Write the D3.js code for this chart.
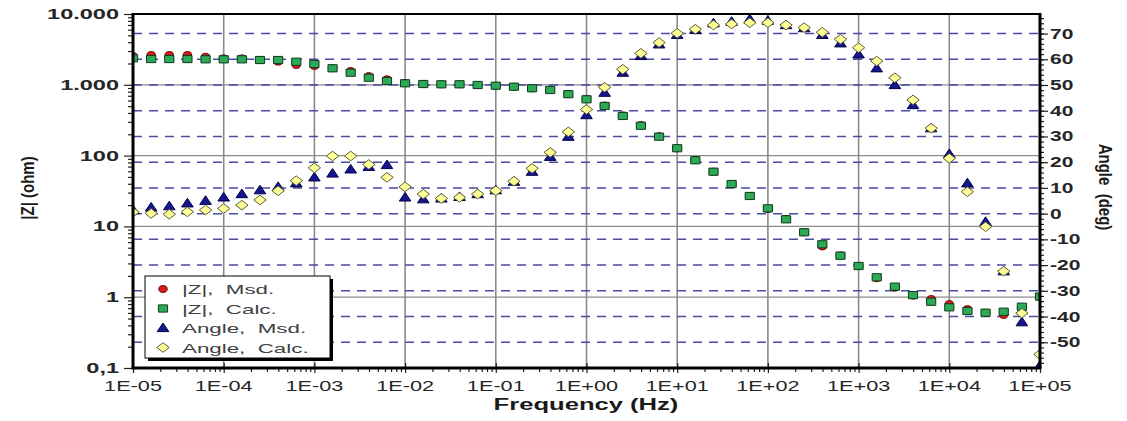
<!DOCTYPE html>
<html>
<head>
<meta charset="utf-8">
<script src="https://cdn.jsdelivr.net/npm/d3@7"></script>
<style>
  html, body { margin: 0; padding: 0; background: #fff; }
  svg { display: block; font-family: "Liberation Sans", Arial, sans-serif; }
  text { white-space: pre; }
</style>
</head>
<body>
<svg id="chart" width="1127" height="421"></svg>
<script>
// Bode plot: impedance modulus + phase angle, measured vs. calculated

const freqHz = [
  1e-5, 1.585e-5, 2.512e-5, 3.981e-5, 6.31e-5,
  1e-4, 1.585e-4, 2.512e-4, 3.981e-4, 6.31e-4,
  1e-3, 1.585e-3, 2.512e-3, 3.981e-3, 6.31e-3,
  1e-2, 1.585e-2, 2.512e-2, 3.981e-2, 6.31e-2,
  1e-1, 1.585e-1, 2.512e-1, 3.981e-1, 6.31e-1,
  1e0, 1.585e0, 2.512e0, 3.981e0, 6.31e0,
  1e1, 1.585e1, 2.512e1, 3.981e1, 6.31e1,
  1e2, 1.585e2, 2.512e2, 3.981e2, 6.31e2,
  1e3, 1.585e3, 2.512e3, 3.981e3, 6.31e3,
  1e4, 1.585e4, 2.512e4, 3.981e4, 6.31e4,
  1e5
];

const zMeasured = [
  2550, 2636, 2636, 2636, 2496, 2366, 2366, 2239, 2118, 1905,
  1845, 1710, 1567, 1330, 1197, 1060, 1026, 1016, 1016, 994,
  971, 940, 893, 845, 737, 630, 510, 370, 270, 188,
  127, 87, 59.3, 39.7, 26.9, 17.6, 12.8, 8.26, 5.2, 3.9,
  2.76, 1.85, 1.36, 1.05, 0.943, 0.80, 0.68, 0.604, 0.56, 0.70,
  1.0
];

const zCalc = [
  2366, 2312, 2312, 2312, 2290, 2290, 2290, 2239, 2239, 2118,
  1967, 1710, 1482, 1259, 1132, 1050, 1026, 1016, 1016, 994,
  971, 940, 893, 845, 737, 624, 502, 363, 264, 185,
  127, 85.9, 59.3, 39.7, 26.9, 18.0, 12.6, 8.26, 5.59, 3.86,
  2.76, 1.91, 1.41, 1.07, 0.863, 0.719, 0.638, 0.604, 0.624, 0.734,
  1.02
];

const angleMeasured = [
  1.4, 2.4, 2.9, 4.0, 5.0, 6.3, 7.6, 9.1, 10.4, 11.8,
  14.1, 15.6, 17.2, 18.2, 18.9, 6.3, 5.6, 5.9, 6.5, 7.6,
  9.1, 12.4, 16.3, 22.1, 29.9, 38.3, 47.0, 54.8, 61.3, 65.8,
  69.5, 71.4, 74.0, 74.6, 75.6, 75.0, 73.3, 72.1, 69.5, 66.2,
  61.9, 56.5, 50.0, 42.2, 33.2, 23.2, 11.8, -3.2, -22.4, -42.2,
  -59
];

const angleCalc = [
  0.6, 0.1, -0.2, 0.7, 1.4, 2.0, 3.3, 5.3, 8.9, 12.8,
  17.8, 22.4, 22.4, 19.1, 14.1, 10.4, 7.6, 5.9, 6.3, 7.6,
  8.9, 12.6, 17.6, 23.8, 31.8, 40.5, 49.1, 56.1, 62.3, 66.5,
  70.1, 71.7, 73.3, 73.7, 74.2, 74.2, 73.3, 72.3, 70.5, 67.8,
  64.5, 59.3, 52.8, 44.2, 33.2, 21.5, 8.5, -5.1, -22.4, -38.7,
  -54.7
];

const freqTicks = [1e-5, 1e-4, 1e-3, 1e-2, 1e-1, 1e0, 1e1, 1e2, 1e3, 1e4, 1e5];
const freqTickLabels = ['1E-05', '1E-04', '1E-03', '1E-02', '1E-01', '1E+00',
                        '1E+01', '1E+02', '1E+03', '1E+04', '1E+05'];
const zTicks = [0.1, 1, 10, 100, 1000, 10000];
const zTickLabels = ['0,1', '1', '10', '100', '1.000', '10.000'];
const angleTicks = [-50, -40, -30, -20, -10, 0, 10, 20, 30, 40, 50, 60, 70];
const legendLabels = ['|Z|,  Msd.', '|Z|,  Calc.', 'Angle,  Msd.', 'Angle,  Calc.'];

/* ------------------------------------------------------------------ */

const plot = { left: 133, right: 1040, top: 14, bottom: 368 };
const SX = 1.5;   // source image is stretched horizontally

const x = d3.scaleLog().domain([1e-5, 1e5]).range([plot.left, plot.right]);
const yZ = d3.scaleLog().domain([0.1, 1e4]).range([plot.bottom, plot.top]);
const yA = d3.scaleLinear().domain([-60, 77.6]).range([plot.bottom, plot.top]);

const svg = d3.select('#chart');

svg.append('defs').append('clipPath').attr('id', 'plot-clip')
  .append('rect')
  .attr('x', plot.left).attr('y', plot.top)
  .attr('width', plot.right - plot.left).attr('height', plot.bottom - plot.top);

// minor tick helpers for the log axes
function logMinors(lo, hi) {
  const out = [];
  for (let d = lo; d < hi; d *= 10) for (let k = 2; k <= 9; k++) out.push(d * k);
  return out;
}

/* grid */
const grid = svg.append('g');
grid.selectAll('line.vgrid')
  .data(freqTicks.slice(1, -1))
  .join('line')
  .attr('x1', d => x(d)).attr('x2', d => x(d))
  .attr('y1', plot.top).attr('y2', plot.bottom)
  .attr('stroke', '#8a8a8a').attr('stroke-width', 1.6);

grid.selectAll('line.hgrid')
  .data(zTicks.slice(1, -1))
  .join('line')
  .attr('x1', plot.left).attr('x2', plot.right)
  .attr('y1', d => yZ(d)).attr('y2', d => yZ(d))
  .attr('stroke', '#8a8a8a').attr('stroke-width', 1.3);

grid.selectAll('line.agrid')
  .data(angleTicks)
  .join('line')
  .attr('x1', plot.left).attr('x2', plot.right)
  .attr('y1', d => yA(d)).attr('y2', d => yA(d))
  .attr('stroke', '#4b4ba0').attr('stroke-width', 1.5)
  .attr('stroke-dasharray', '9,7');

/* markers */
const marks = svg.append('g').attr('clip-path', 'url(#plot-clip)');

const shapes = {
  circle:   'M-4.2,0A4.2,3.4 0 1,0 4.2,0A4.2,3.4 0 1,0 -4.2,0Z',
  square:   'M-4.6,-3.6H4.6V3.6H-4.6Z',
  triangle: 'M0,-5L5.8,3.6H-5.8Z',
  diamond:  'M0,-4.8L6.2,0L0,4.8L-6.2,0Z',
};

const seriesDefs = [
  { vals: zMeasured,     y: yZ, shape: 'circle',   fill: '#d41c1c', stroke: '#7a0000' },
  { vals: zCalc,         y: yZ, shape: 'square',   fill: '#2caa58', stroke: '#0e3a1d' },
  { vals: angleMeasured, y: yA, shape: 'triangle', fill: '#15158e', stroke: '#00004a' },
  { vals: angleCalc,     y: yA, shape: 'diamond',  fill: '#ffff99', stroke: '#5c5c34' },
];

for (const s of seriesDefs) {
  marks.append('g').selectAll('path')
    .data(s.vals)
    .join('path')
    .attr('d', shapes[s.shape])
    .attr('transform', (d, i) => `translate(${x(freqHz[i])},${s.y(d)})`)
    .attr('fill', s.fill)
    .attr('stroke', s.stroke)
    .attr('stroke-width', 1);
}

/* axes ticks */
const axes = svg.append('g').attr('stroke', '#111');

// left |Z|
axes.append('g').attr('transform', `translate(${plot.left},0)`)
  .call(d3.axisLeft(yZ).tickValues(zTicks).tickSize(9).tickFormat(''))
  .call(g => g.select('.domain').remove());
axes.append('g').attr('transform', `translate(${plot.left},0)`)
  .call(d3.axisLeft(yZ).tickValues(logMinors(0.1, 1e4)).tickSize(5).tickFormat(''))
  .call(g => g.select('.domain').remove());

// right angle
axes.append('g').attr('transform', `translate(${plot.right},0)`)
  .call(d3.axisRight(yA).tickValues(angleTicks).tickSize(8).tickFormat(''))
  .call(g => g.select('.domain').remove());
axes.append('g').attr('transform', `translate(${plot.right},0)`)
  .call(d3.axisRight(yA).tickValues(d3.range(-58, 78, 2)).tickSize(4).tickFormat(''))
  .call(g => g.select('.domain').remove());

// bottom frequency
axes.append('g').attr('transform', `translate(0,${plot.bottom - 5})`)
  .call(d3.axisBottom(x).tickValues(freqTicks).tickSize(10).tickFormat(''))
  .call(g => g.select('.domain').remove());
axes.append('g').attr('transform', `translate(0,${plot.bottom})`)
  .call(d3.axisBottom(x).tickValues(logMinors(1e-5, 1e5)).tickSize(4).tickFormat(''))
  .call(g => g.select('.domain').remove());

axes.selectAll('.tick line').attr('stroke', '#222').attr('stroke-width', 1.2);

/* frame */
const frame = svg.append('g').attr('fill', 'none').attr('stroke', '#000');
frame.append('line').attr('x1', plot.left).attr('x2', plot.right)
  .attr('y1', plot.top).attr('y2', plot.top).attr('stroke-width', 2);
frame.append('line').attr('x1', plot.left - 1.5).attr('x2', plot.right + 1.5)
  .attr('y1', plot.bottom).attr('y2', plot.bottom).attr('stroke-width', 3);
frame.append('line').attr('x1', plot.left).attr('x2', plot.left)
  .attr('y1', plot.top - 1).attr('y2', plot.bottom).attr('stroke-width', 3);
frame.append('line').attr('x1', plot.right).attr('x2', plot.right)
  .attr('y1', plot.top - 1).attr('y2', plot.bottom).attr('stroke-width', 3);

/* labels */
function stretchedText(g, tx, ty, str, opts) {
  const o = Object.assign({ size: 14, weight: 'bold', anchor: 'middle', sx: SX, fill: '#262626', rotate: 0 }, opts);
  return g.append('text')
    .attr('transform', `translate(${tx},${ty}) scale(${o.sx},1)` + (o.rotate ? ` rotate(${o.rotate})` : ''))
    .attr('text-anchor', o.anchor)
    .attr('font-size', o.size)
    .attr('font-weight', o.weight)
    .attr('fill', o.fill)
    .text(str);
}

const labels = svg.append('g');

zTicks.forEach((v, i) =>
  stretchedText(labels, 119, yZ(v) + 5, zTickLabels[i], { anchor: 'end', sx: 1.68 }));

angleTicks.forEach(v =>
  stretchedText(labels, 1050, yA(v) + 5, String(v), { anchor: 'start' }));

freqTicks.forEach((v, i) =>
  stretchedText(labels, x(v), 391, freqTickLabels[i], { weight: 'normal', sx: 1.55 }));

stretchedText(labels, 586, 410, 'Frequency (Hz)', { size: 16, sx: 1.6, fill: '#1a1a1a' });
stretchedText(labels, 27, 188, '|Z| (ohm)', { size: 15, sx: 1.25, rotate: -90, fill: '#1a1a1a' })
  .attr('dy', '0.35em');
stretchedText(labels, 1106, 187, 'Angle  (deg)', { size: 15, sx: 1.25, rotate: 90, fill: '#1a1a1a' })
  .attr('dy', '0.35em');

/* legend */
const legend = svg.append('g');
const lg = { x: 145, y: 276, w: 185, h: 82 };
legend.append('rect')
  .attr('x', lg.x + 3).attr('y', lg.y + 3).attr('width', lg.w).attr('height', lg.h)
  .attr('fill', '#000');
legend.append('rect')
  .attr('x', lg.x).attr('y', lg.y).attr('width', lg.w).attr('height', lg.h)
  .attr('fill', '#fff').attr('stroke', '#000').attr('stroke-width', 1);

seriesDefs.forEach((s, i) => {
  const cy = lg.y + 13 + i * 19.5;
  legend.append('path')
    .attr('d', shapes[s.shape])
    .attr('transform', `translate(${lg.x + 18},${cy})`)
    .attr('fill', s.fill).attr('stroke', s.stroke).attr('stroke-width', 1);
  stretchedText(legend, lg.x + 37, cy + 5, legendLabels[i],
    { size: 13, weight: 'normal', anchor: 'start', sx: 1.72, fill: '#404040' });
});
</script>
</body>
</html>
